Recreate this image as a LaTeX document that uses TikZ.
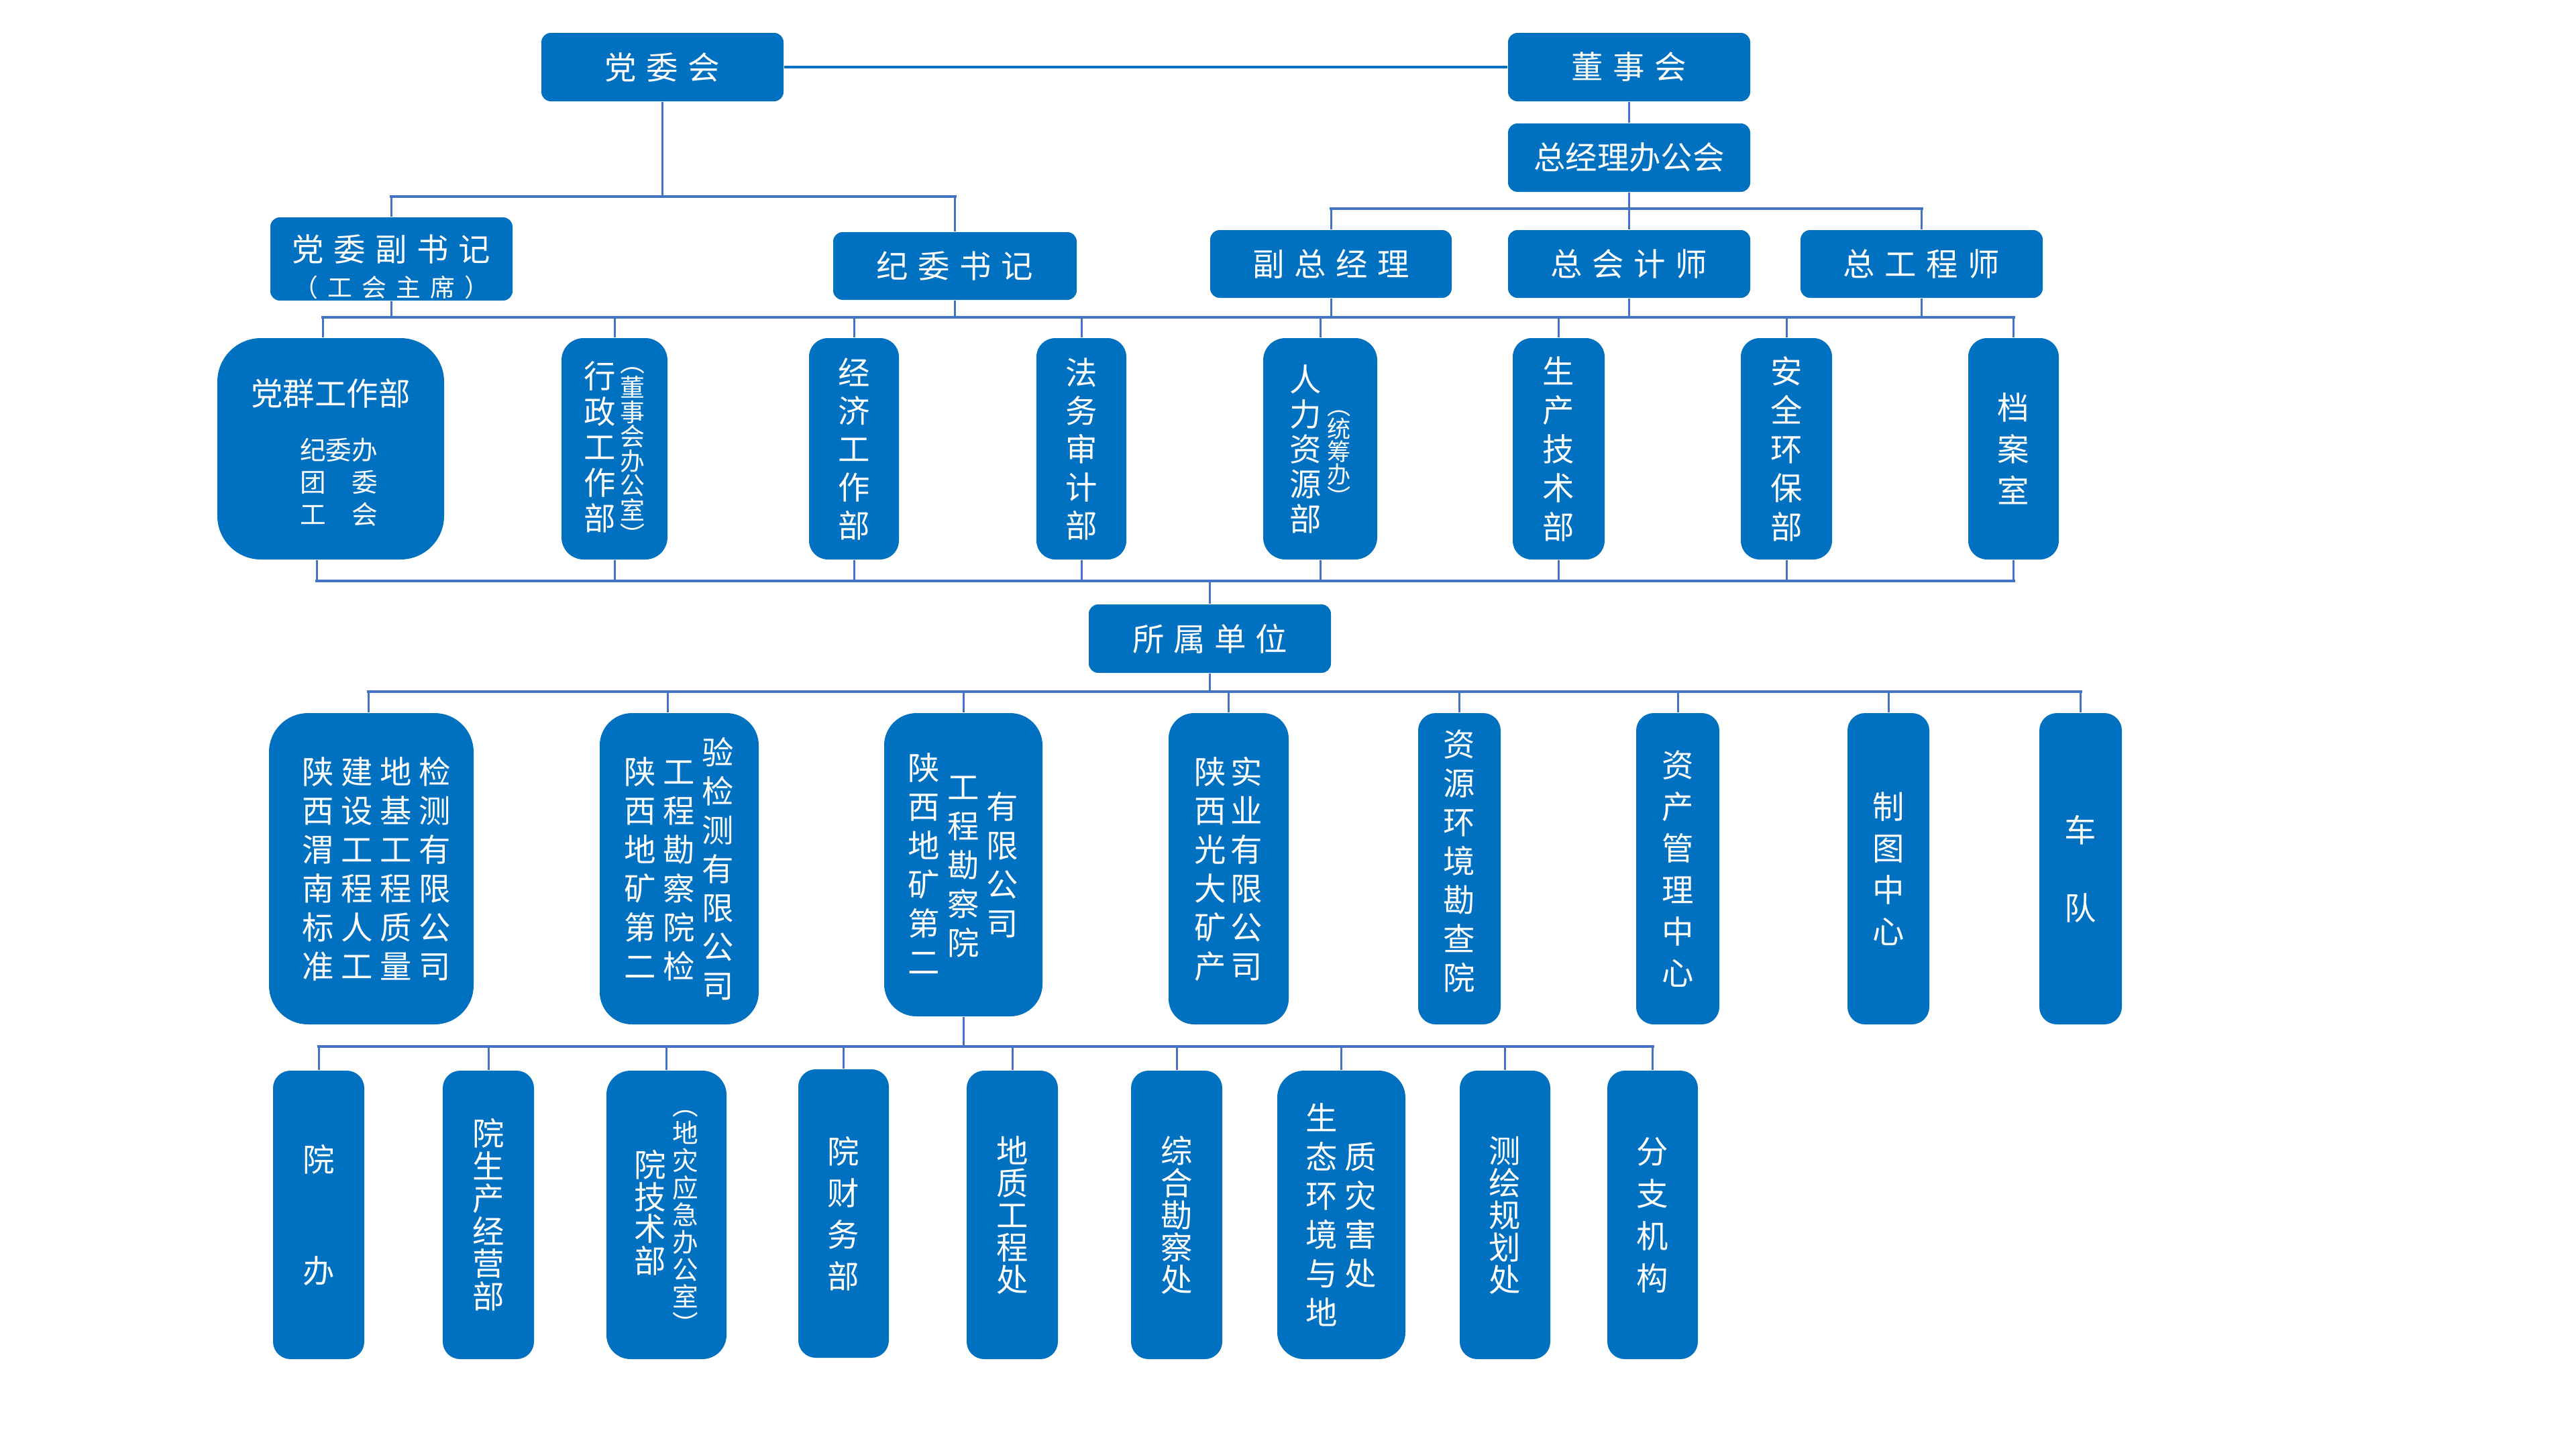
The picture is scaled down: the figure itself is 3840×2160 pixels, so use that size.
\documentclass[tikz,border=0pt]{standalone}
\usepackage{fontspec}
\usepackage{array}
\newfontfamily\cjk{Noto Sans CJK SC}
\definecolor{boxblue}{HTML}{0070C0}
\definecolor{lineblue}{HTML}{4472C4}
% vertical stack of characters: size, pitch, rows
\newcommand\vstack[3]{{\fontsize{#1}{#2}\selectfont\renewcommand\arraystretch{0}%
\begin{tabular}[c]{@{}>{\rule[\dimexpr0.38em-(#2)/2\relax]{0pt}{#2}}c@{}}#3\end{tabular}}}
\newcommand\hz[1]{{\fontsize{13.5pt}{16pt}\selectfont #1}}
\newcommand\sgap{\hspace{1.46mm}}
\newcommand\cgap{\hspace{1.06mm}}
\tikzset{
  unit/.style={fill=boxblue, text=white, inner sep=0pt, font=\cjk},
  wh/.style 2 args={minimum width=#1, minimum height=#2},
  bus/.style={draw=lineblue, line width=0.42mm, line cap=rect},
  drop/.style={draw=lineblue, line width=0.3mm},
  mainlink/.style={draw=boxblue, line width=0.42mm},
}
\begin{document}
\begin{tikzpicture}[x=0.1mm,y=-0.1mm]
\useasboundingbox (0,0) rectangle (3840,2160);

% ---- top level ----
\node[unit,wh={36.1mm}{10.2mm},rounded corners=1.4mm] (dwh) at (987.5,100) {\hz{党\sgap 委\sgap 会}};
\node[unit,wh={36.1mm}{10.2mm},rounded corners=1.4mm] (dsh) at (2428.5,100) {\hz{董\sgap 事\sgap 会}};
\node[unit,wh={36.1mm}{10.2mm},rounded corners=1.4mm] (zjl) at (2428.5,235) {\hz{总经理办公会}};
\node[unit,wh={36.1mm}{12.4mm},rounded corners=1.4mm] (fsj) at (583.5,386) {\raisebox{-2.44mm}[0pt][0pt]{\vstack{13.5pt}{5.3mm}{党\sgap 委\sgap 副\sgap 书\sgap 记\\{\fontsize{10.5pt}{12pt}\selectfont （\hspace{1.4mm}工\hspace{1.4mm}会\hspace{1.4mm}主\hspace{1.4mm}席\hspace{1.4mm}）}}}};
\node[unit,wh={36.3mm}{10.1mm},rounded corners=1.4mm] (jwsj) at (1423.5,396.5) {\hz{纪\sgap 委\sgap 书\sgap 记}};
\node[unit,wh={36.0mm}{10.1mm},rounded corners=1.4mm] (fzjl) at (1984,393.5) {\hz{副\sgap 总\sgap 经\sgap 理}};
\node[unit,wh={36.1mm}{10.1mm},rounded corners=1.4mm] (zkj) at (2428.5,393.5) {\hz{总\sgap 会\sgap 计\sgap 师}};
\node[unit,wh={36.1mm}{10.1mm},rounded corners=1.4mm] (zgc) at (2864.5,393.5) {\hz{总\sgap 工\sgap 程\sgap 师}};

% ---- departments ----
\node[unit,wh={33.8mm}{33mm},rounded corners=6.5mm] (d1) at (493,669) {\raisebox{-1.82mm}[0pt][0pt]{\vstack{11pt}{4.8mm}{{\fontsize{13.5pt}{16pt}\selectfont 党群工作部}\\\noalign{\vspace{3.3mm}}\hspace{2.4mm}纪委办\\\hspace{2.4mm}团\quad 委\\\hspace{2.4mm}工\quad 会}}};
\node[unit,wh={15.8mm}{33mm},rounded corners=3.3mm] (d2) at (916,669) {\vstack{13.5pt}{5.3mm}{行\\政\\工\\作\\部}\hspace{0.68mm}\vstack{10.5pt}{3.66mm}{︵\\董\\事\\会\\办\\公\\室\\︶}};
\node[unit,wh={13.4mm}{33mm},rounded corners=2.8mm] (d3) at (1273,669) {\vstack{13.5pt}{5.7mm}{经\\济\\工\\作\\部}};
\node[unit,wh={13.4mm}{33mm},rounded corners=2.8mm] (d4) at (1612,669) {\vstack{13.5pt}{5.7mm}{法\\务\\审\\计\\部}};
\node[unit,wh={17.0mm}{33mm},rounded corners=3.3mm] (d5) at (1968,669) {\vstack{13.5pt}{5.2mm}{人\\力\\资\\源\\部}\hspace{0.87mm}\vstack{10pt}{3.4mm}{︵\\统\\筹\\办\\︶}};
\node[unit,wh={13.7mm}{33mm},rounded corners=2.8mm] (d6) at (2323.5,669) {\vstack{13.5pt}{5.8mm}{生\\产\\技\\术\\部}};
\node[unit,wh={13.6mm}{33mm},rounded corners=2.8mm] (d7) at (2663,669) {\vstack{13.5pt}{5.8mm}{安\\全\\环\\保\\部}};
\node[unit,wh={13.5mm}{33mm},rounded corners=2.8mm] (d8) at (3001.5,669) {\vstack{13.5pt}{6.2mm}{档\\案\\室}};

% ---- affiliated units ----
\node[unit,wh={36.1mm}{10.2mm},rounded corners=1.4mm] (ssdw) at (1803.5,952) {\hz{所\hspace{1.36mm}属\hspace{1.36mm}单\hspace{1.36mm}位}};

\node[unit,wh={30.5mm}{46.4mm},rounded corners=5.8mm] (s1) at (553.5,1295) {\hspace{1.5mm}\vstack{13.5pt}{5.8mm}{陕\\西\\渭\\南\\标\\准}\cgap\vstack{13.5pt}{5.8mm}{建\\设\\工\\程\\人\\工}\cgap\vstack{13.5pt}{5.8mm}{地\\基\\工\\程\\质\\量}\cgap\vstack{13.5pt}{5.8mm}{检\\测\\有\\限\\公\\司}};
\node[unit,wh={23.7mm}{46.4mm},rounded corners=4.8mm] (s2) at (1012.5,1295) {\vstack{13.5pt}{5.8mm}{陕\\西\\地\\矿\\第\\二}\cgap\vstack{13.5pt}{5.8mm}{工\\程\\勘\\察\\院\\检}\cgap\vstack{13.5pt}{5.8mm}{验\\检\\测\\有\\限\\公\\司}\hspace{1.9mm}};
\node[unit,wh={23.6mm}{45.2mm},rounded corners=4.8mm] (s3) at (1436,1289) {\vstack{13.5pt}{5.8mm}{陕\\西\\地\\矿\\第\\二}\hspace{1.1mm}\vstack{13.5pt}{5.8mm}{工\\程\\勘\\察\\院}\hspace{1.1mm}\vstack{13.5pt}{5.8mm}{有\\限\\公\\司}\hspace{1.7mm}};
\node[unit,wh={17.9mm}{46.4mm},rounded corners=3.8mm] (s4) at (1831.5,1295) {\vstack{13.5pt}{5.8mm}{陕\\西\\光\\大\\矿\\产}\hspace{0.66mm}\vstack{13.5pt}{5.8mm}{实\\业\\有\\限\\公\\司}};
\node[unit,wh={12.3mm}{46.4mm},rounded corners=2.6mm] (s5) at (2175.5,1295) {\raisebox{-0.09mm}[0pt][0pt]{\vstack{13.5pt}{5.8mm}{资\\源\\环\\境\\勘\\查\\院}}};
\node[unit,wh={12.4mm}{46.4mm},rounded corners=2.6mm] (s6) at (2501,1295) {\vstack{13.5pt}{6.2mm}{资\\产\\管\\理\\中\\心}};
\node[unit,wh={12.2mm}{46.4mm},rounded corners=2.6mm] (s7) at (2815,1295) {\vstack{13.5pt}{6.2mm}{制\\图\\中\\心}};
\node[unit,wh={12.3mm}{46.4mm},rounded corners=2.6mm] (s8) at (3101.5,1295) {\vstack{13.5pt}{11.6mm}{车\\队}};

% ---- institute departments ----
\node[unit,wh={13.6mm}{43mm},rounded corners=2.6mm] (u1) at (475,1811) {\vstack{13.5pt}{16.6mm}{院\\办}};
\node[unit,wh={13.6mm}{43mm},rounded corners=2.6mm] (u2) at (728,1811) {\vstack{13.5pt}{4.86mm}{院\\生\\产\\经\\营\\部}};
\node[unit,wh={17.9mm}{43mm},rounded corners=3.6mm] (u3) at (993.5,1811) {\vstack{13.5pt}{4.77mm}{院\\技\\术\\部}\hspace{0.9mm}\vstack{11pt}{4.07mm}{︵\\地\\灾\\应\\急\\办\\公\\室\\︶}};
\node[unit,wh={13.5mm}{43mm},rounded corners=2.6mm] (u4) at (1257.5,1809) {\vstack{13.5pt}{6.2mm}{院\\财\\务\\部}};
\node[unit,wh={13.6mm}{43mm},rounded corners=2.6mm] (u5) at (1509,1811) {\vstack{13.5pt}{4.8mm}{地\\质\\工\\程\\处}};
\node[unit,wh={13.6mm}{43mm},rounded corners=2.6mm] (u6) at (1754,1811) {\vstack{13.5pt}{4.8mm}{综\\合\\勘\\察\\处}};
\node[unit,wh={19.1mm}{43mm},rounded corners=4.0mm] (u7) at (1999.5,1811) {\vstack{13.5pt}{5.8mm}{生\\态\\环\\境\\与\\地}\cgap\vstack{13.5pt}{5.8mm}{质\\灾\\害\\处}};
\node[unit,wh={13.5mm}{43mm},rounded corners=2.6mm] (u8) at (2243.5,1811) {\vstack{13.5pt}{4.8mm}{测\\绘\\规\\划\\处}};
\node[unit,wh={13.5mm}{43mm},rounded corners=2.6mm] (u9) at (2463.5,1811) {\vstack{13.5pt}{6.3mm}{分\\支\\机\\构}};

% ---- bus coordinates ----
\coordinate (ba) at (0,293);
\coordinate (bb) at (0,311);
\coordinate (bc) at (0,473);
\coordinate (bd) at (0,866);
\coordinate (be) at (0,1031);
\coordinate (bf) at (0,1560);

% ---- connectors ----
\draw[mainlink] (dwh.east) -- (dsh.west);
\draw[drop] (dsh.south) -- (zjl.north);

\draw[drop] (dwh.south) -- (dwh.south |- ba);
\draw[bus] (fsj.north |- ba) -- (jwsj.north |- ba);
\draw[drop] (fsj.north |- ba) -- (fsj.north);
\draw[drop] (jwsj.north |- ba) -- (jwsj.north);

\draw[drop] (zjl.south) -- (zkj.north);
\draw[bus] (fzjl.north |- bb) -- (zgc.north |- bb);
\draw[drop] (fzjl.north |- bb) -- (fzjl.north);
\draw[drop] (zgc.north |- bb) -- (zgc.north);

\draw[bus] ([xshift=-1.2mm]d1.north |- bc) -- (d8.north |- bc);
\foreach \n in {fsj,jwsj,fzjl,zkj,zgc} \draw[drop] (\n.south) -- (\n.south |- bc);
\draw[drop] ([xshift=-1.2mm]d1.north |- bc) -- ([xshift=-1.2mm]d1.north);
\foreach \n in {d2,d3,d4,d5,d6,d7,d8} \draw[drop] (\n.north |- bc) -- (\n.north);

\draw[bus] ([xshift=-2.1mm]d1.south |- bd) -- (d8.south |- bd);
\draw[drop] ([xshift=-2.1mm]d1.south) -- ([xshift=-2.1mm]d1.south |- bd);
\foreach \n in {d2,d3,d4,d5,d6,d7,d8} \draw[drop] (\n.south) -- (\n.south |- bd);
\draw[drop] (ssdw.north |- bd) -- (ssdw.north);

\draw[drop] (ssdw.south) -- (ssdw.south |- be);
\draw[bus] ([xshift=-0.45mm]s1.north |- be) -- (s8.north |- be);
\draw[drop] ([xshift=-0.45mm]s1.north |- be) -- ([xshift=-0.45mm]s1.north);
\draw[drop] ([xshift=-1.75mm]s2.north |- be) -- ([xshift=-1.75mm]s2.north);
\foreach \n in {s3,s4,s5,s6,s7,s8} \draw[drop] (\n.north |- be) -- (\n.north);

\draw[drop] (s3.south) -- (s3.south |- bf);
\draw[bus] (u1.north |- bf) -- (u9.north |- bf);
\foreach \n in {u1,u2,u3,u4,u5,u6,u7,u8,u9} \draw[drop] (\n.north |- bf) -- (\n.north);
\end{tikzpicture}
\end{document}
